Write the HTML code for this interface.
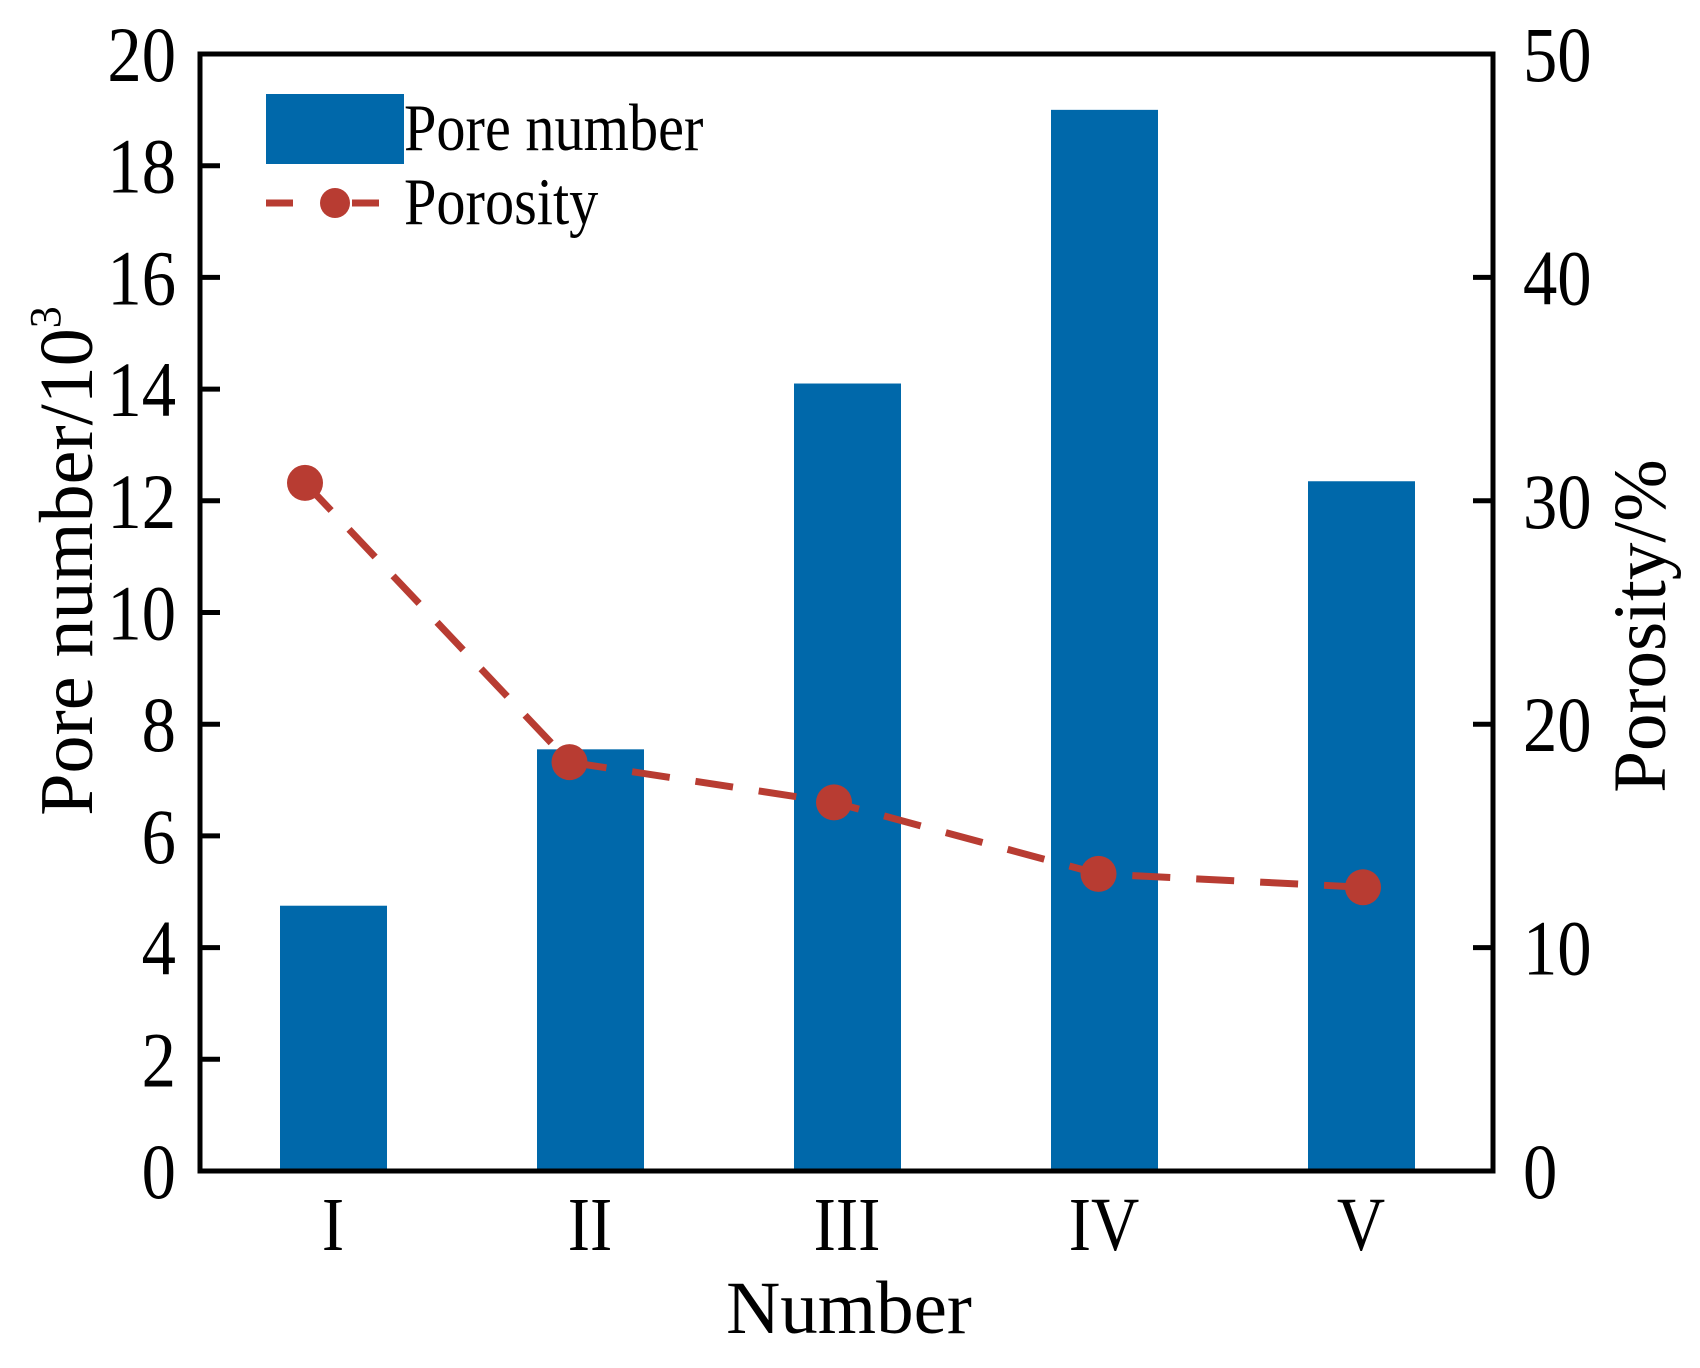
<!DOCTYPE html>
<html><head><meta charset="utf-8"><style>
html,body{margin:0;padding:0;background:#fff;}
svg{display:block;font-family:"Liberation Serif",serif;}
</style></head><body>
<svg id="chart" width="1700" height="1368" viewBox="0 0 1700 1368">
<g id="bars"></g><g id="line"></g><g id="axes"></g>
<g>
<rect x="266" y="94" width="138" height="70" fill="#0068aa"/>
<text transform="translate(404,150) scale(0.87,1)" font-size="67">Pore number</text>
<line x1="266" y1="203" x2="293" y2="203" stroke="#b83c32" stroke-width="7"/>
<line x1="352" y1="203" x2="379" y2="203" stroke="#b83c32" stroke-width="7"/>
<circle cx="335" cy="203" r="15" fill="#b83c32"/>
<text transform="translate(404,224) scale(0.87,1)" font-size="67">Porosity</text>
</g>
<text transform="translate(92,561) rotate(-90)" text-anchor="middle" font-size="76">Pore number/10<tspan font-size="44" dy="-32">3</tspan></text>
<text transform="translate(1665,626) rotate(-90)" text-anchor="middle" font-size="75">Porosity/%</text>
<text transform="translate(849,1333)" text-anchor="middle" font-size="75">Number</text>
</svg>
<script>
const categories = ["I","II","III","IV","V"];
const poreNumber = [4.75, 7.55, 14.1, 19.0, 12.35];
const porosity = [30.8, 18.3, 16.5, 13.3, 12.7];
const leftTicks = [0,2,4,6,8,10,12,14,16,18,20];
const rightTicks = [0,10,20,30,40,50];

const NS="http://www.w3.org/2000/svg";
const X0=200, X1=1493, Y0=1171, Y1=54;
const yL=v=>Y0-(v/20)*(Y0-Y1);
const yR=v=>Y0-(v/50)*(Y0-Y1);
const xC=i=>333+i*257;
const xP=i=>305+i*264.5;
function mk(tag,attrs,parent){const e=document.createElementNS(NS,tag);for(const k in attrs)e.setAttribute(k,attrs[k]);parent.appendChild(e);return e;}
const bars=document.getElementById('bars'),line=document.getElementById('line'),axes=document.getElementById('axes');
categories.forEach((c,i)=>{
  const r=mk('rect',{x:xC(i)-53,y:yL(poreNumber[i]),width:107,height:Y0-yL(poreNumber[i]),fill:'#0068aa'},bars);
  
  
  const t=mk('text',{transform:`translate(${xC(i)},1250) scale(0.88,1)`,'text-anchor':'middle','font-size':'76'},axes);
  t.textContent=c;
  
  
});
const pts=porosity.map((v,i)=>xP(i)+','+yR(v));
const pl=mk('polyline',{points:pts.join(' '),fill:'none',stroke:'#b83c32','stroke-width':7,'stroke-dasharray':'38 26'},line);


porosity.forEach((v,i)=>{
  const c=mk('circle',{cx:xP(i),cy:yR(v),r:18,fill:'#b83c32'},line);
  
  
});
const frame=mk('rect',{x:X0,y:Y1,width:X1-X0,height:Y0-Y1,fill:'none',stroke:'#000','stroke-width':5},axes);


leftTicks.forEach(v=>{
  const y=yL(v);
  const l=mk('line',{x1:X0,y1:y,x2:X0+20,y2:y,stroke:'#000','stroke-width':5},axes);
  
  
  const t=mk('text',{transform:`translate(176,${y+27}) scale(0.88,1)`,'text-anchor':'end','font-size':'78'},axes);
  t.textContent=v;
  
  
});
rightTicks.forEach(v=>{
  const y=yR(v);
  const l=mk('line',{x1:X1-20,y1:y,x2:X1,y2:y,stroke:'#000','stroke-width':5},axes);
  
  
  const t=mk('text',{transform:`translate(1523,${y+27}) scale(0.88,1)`,'font-size':'78'},axes);
  t.textContent=v;
  
  
});
</script>
</body></html>
